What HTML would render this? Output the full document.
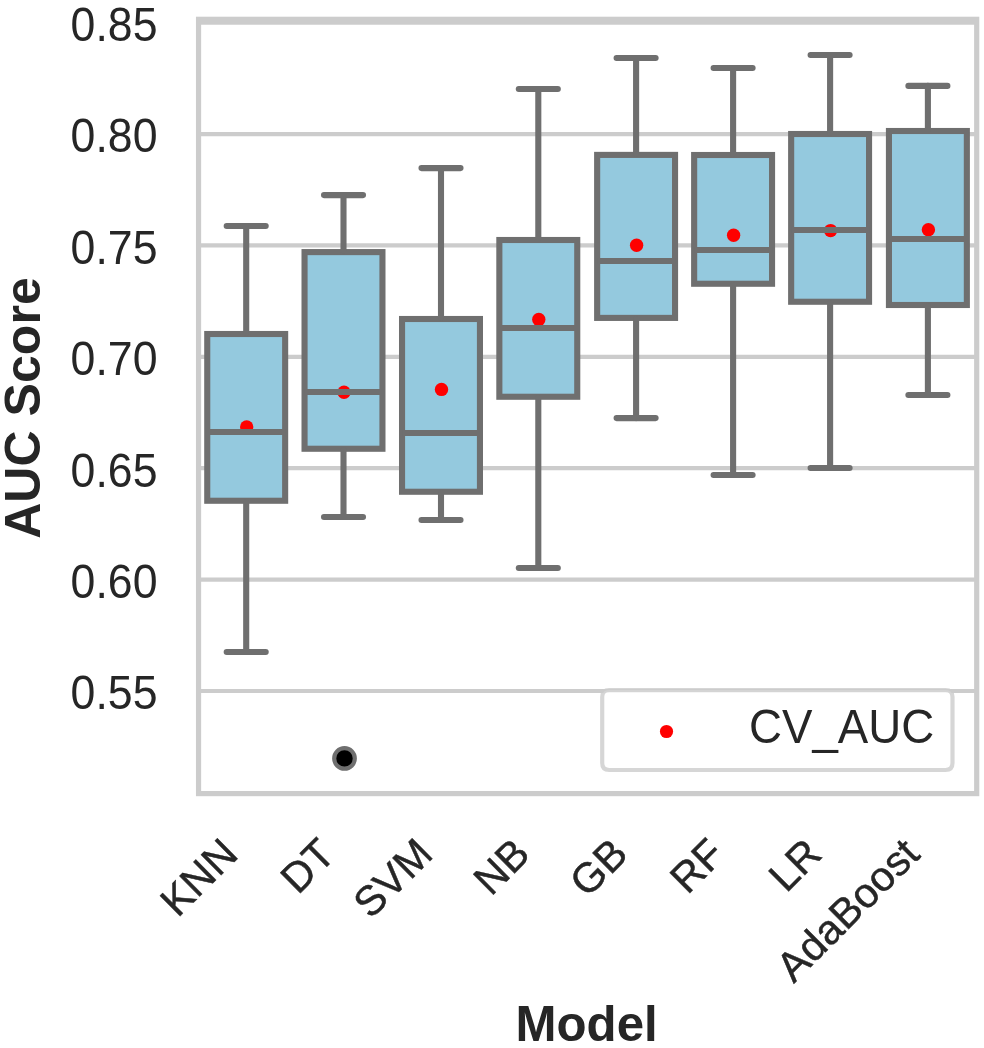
<!DOCTYPE html>
<html><head><meta charset="utf-8"><title>AUC Score by Model</title>
<style>html,body{margin:0;padding:0;background:#fff}svg{display:block}</style></head>
<body>
<svg width="984" height="1048" viewBox="0 0 984 1048" style="display:block">
<rect width="984" height="1048" fill="#fff"/>
<defs><clipPath id="ax"><rect x="198.55" y="19.3" width="778.1500000000001" height="774.3000000000001"/></clipPath></defs>
<g clip-path="url(#ax)">
<line x1="198.55" x2="976.7" y1="22.65" y2="22.65" stroke="#cccccc" stroke-width="4.17"/>
<line x1="198.55" x2="976.7" y1="134.05" y2="134.05" stroke="#cccccc" stroke-width="4.17"/>
<line x1="198.55" x2="976.7" y1="245.45" y2="245.45" stroke="#cccccc" stroke-width="4.17"/>
<line x1="198.55" x2="976.7" y1="356.85" y2="356.85" stroke="#cccccc" stroke-width="4.17"/>
<line x1="198.55" x2="976.7" y1="468.2" y2="468.2" stroke="#cccccc" stroke-width="4.17"/>
<line x1="198.55" x2="976.7" y1="579.6" y2="579.6" stroke="#cccccc" stroke-width="4.17"/>
<line x1="198.55" x2="976.7" y1="691.0" y2="691.0" stroke="#cccccc" stroke-width="4.17"/>
<rect x="207.25" y="334.00" width="77.90" height="166.75" fill="#94c9de" stroke="#6f6f6f" stroke-width="6.1"/>
<rect x="304.55" y="252.10" width="77.90" height="196.65" fill="#94c9de" stroke="#6f6f6f" stroke-width="6.1"/>
<rect x="402.05" y="319.00" width="77.90" height="172.75" fill="#94c9de" stroke="#6f6f6f" stroke-width="6.1"/>
<rect x="499.35" y="240.00" width="77.90" height="156.75" fill="#94c9de" stroke="#6f6f6f" stroke-width="6.1"/>
<rect x="597.15" y="154.90" width="77.90" height="163.00" fill="#94c9de" stroke="#6f6f6f" stroke-width="6.1"/>
<rect x="694.15" y="155.00" width="77.90" height="128.75" fill="#94c9de" stroke="#6f6f6f" stroke-width="6.1"/>
<rect x="791.15" y="134.00" width="77.90" height="167.75" fill="#94c9de" stroke="#6f6f6f" stroke-width="6.1"/>
<rect x="888.95" y="131.00" width="77.90" height="174.00" fill="#94c9de" stroke="#6f6f6f" stroke-width="6.1"/>
<g stroke="#6f6f6f" stroke-width="6.1" stroke-linecap="round">
<line x1="246.20" x2="246.20" y1="332.50" y2="226.05"/>
<line x1="246.20" x2="246.20" y1="502.25" y2="652.00"/>
<line x1="226.70" x2="265.70" y1="226.05" y2="226.05"/>
<line x1="226.70" x2="265.70" y1="652.00" y2="652.00"/>
</g>
<g stroke="#6f6f6f" stroke-width="6.1" stroke-linecap="round">
<line x1="343.50" x2="343.50" y1="250.60" y2="195.10"/>
<line x1="343.50" x2="343.50" y1="450.25" y2="517.00"/>
<line x1="324.00" x2="363.00" y1="195.10" y2="195.10"/>
<line x1="324.00" x2="363.00" y1="517.00" y2="517.00"/>
</g>
<g stroke="#6f6f6f" stroke-width="6.1" stroke-linecap="round">
<line x1="441.00" x2="441.00" y1="317.50" y2="168.10"/>
<line x1="441.00" x2="441.00" y1="493.25" y2="520.00"/>
<line x1="421.50" x2="460.50" y1="168.10" y2="168.10"/>
<line x1="421.50" x2="460.50" y1="520.00" y2="520.00"/>
</g>
<g stroke="#6f6f6f" stroke-width="6.1" stroke-linecap="round">
<line x1="538.30" x2="538.30" y1="238.50" y2="89.00"/>
<line x1="538.30" x2="538.30" y1="398.25" y2="568.00"/>
<line x1="518.80" x2="557.80" y1="89.00" y2="89.00"/>
<line x1="518.80" x2="557.80" y1="568.00" y2="568.00"/>
</g>
<g stroke="#6f6f6f" stroke-width="6.1" stroke-linecap="round">
<line x1="636.10" x2="636.10" y1="153.40" y2="58.00"/>
<line x1="636.10" x2="636.10" y1="319.40" y2="418.10"/>
<line x1="616.60" x2="655.60" y1="58.00" y2="58.00"/>
<line x1="616.60" x2="655.60" y1="418.10" y2="418.10"/>
</g>
<g stroke="#6f6f6f" stroke-width="6.1" stroke-linecap="round">
<line x1="733.10" x2="733.10" y1="153.50" y2="68.00"/>
<line x1="733.10" x2="733.10" y1="285.25" y2="475.00"/>
<line x1="713.60" x2="752.60" y1="68.00" y2="68.00"/>
<line x1="713.60" x2="752.60" y1="475.00" y2="475.00"/>
</g>
<g stroke="#6f6f6f" stroke-width="6.1" stroke-linecap="round">
<line x1="830.10" x2="830.10" y1="132.50" y2="55.00"/>
<line x1="830.10" x2="830.10" y1="303.25" y2="468.00"/>
<line x1="810.60" x2="849.60" y1="55.00" y2="55.00"/>
<line x1="810.60" x2="849.60" y1="468.00" y2="468.00"/>
</g>
<g stroke="#6f6f6f" stroke-width="6.1" stroke-linecap="round">
<line x1="927.90" x2="927.90" y1="129.50" y2="85.90"/>
<line x1="927.90" x2="927.90" y1="306.50" y2="395.00"/>
<line x1="908.40" x2="947.40" y1="85.90" y2="85.90"/>
<line x1="908.40" x2="947.40" y1="395.00" y2="395.00"/>
</g>
<circle cx="344.5" cy="758.4" r="10.3" fill="#000" stroke="#6f6f6f" stroke-width="4.2"/>
<circle cx="246.70" cy="427.00" r="6.7" fill="#ff0000"/>
<circle cx="344.00" cy="392.25" r="6.7" fill="#ff0000"/>
<circle cx="441.50" cy="389.40" r="6.7" fill="#ff0000"/>
<circle cx="538.80" cy="319.40" r="6.7" fill="#ff0000"/>
<circle cx="636.60" cy="245.25" r="6.7" fill="#ff0000"/>
<circle cx="733.60" cy="235.25" r="6.7" fill="#ff0000"/>
<circle cx="830.60" cy="230.60" r="6.7" fill="#ff0000"/>
<circle cx="928.40" cy="229.75" r="6.7" fill="#ff0000"/>
<line x1="207.25" x2="285.15" y1="432.00" y2="432.00" stroke="#6f6f6f" stroke-width="6.1"/>
<line x1="304.55" x2="382.45" y1="392.00" y2="392.00" stroke="#6f6f6f" stroke-width="6.1"/>
<line x1="402.05" x2="479.95" y1="433.00" y2="433.00" stroke="#6f6f6f" stroke-width="6.1"/>
<line x1="499.35" x2="577.25" y1="328.00" y2="328.00" stroke="#6f6f6f" stroke-width="6.1"/>
<line x1="597.15" x2="675.05" y1="261.00" y2="261.00" stroke="#6f6f6f" stroke-width="6.1"/>
<line x1="694.15" x2="772.05" y1="250.00" y2="250.00" stroke="#6f6f6f" stroke-width="6.1"/>
<line x1="791.15" x2="869.05" y1="230.00" y2="230.00" stroke="#6f6f6f" stroke-width="6.1"/>
<line x1="888.95" x2="966.85" y1="239.00" y2="239.00" stroke="#6f6f6f" stroke-width="6.1"/>
</g>
<rect x="198.55" y="19.3" width="778.1500000000001" height="774.3000000000001" fill="none" stroke="#cccccc" stroke-width="5.2"/>
<path d="M609.2,690.0 H945.5 Q952.5,690.0 952.5,697.0 V763.0 Q952.5,770.0 945.5,770.0 H609.2 Q602.2,770.0 602.2,763.0 V697.0 Q602.2,690.0 609.2,690.0 Z" fill="#fff" fill-opacity="0.8" stroke="#cccccc" stroke-opacity="0.8" stroke-width="4.17"/>
<circle cx="666.5" cy="731.5" r="6.6" fill="#ff0000"/>
<text transform="translate(749.0,743.0) scale(0.997,1.04)" font-family="Liberation Sans, sans-serif" font-size="45.83" fill="#262626">CV_AUC</text>
<text transform="translate(157.5,40.95) scale(0.974,1.05)" text-anchor="end" font-family="Liberation Sans, sans-serif" font-size="45.83" fill="#262626">0.85</text>
<text transform="translate(157.5,152.35) scale(0.974,1.05)" text-anchor="end" font-family="Liberation Sans, sans-serif" font-size="45.83" fill="#262626">0.80</text>
<text transform="translate(157.5,263.75) scale(0.974,1.05)" text-anchor="end" font-family="Liberation Sans, sans-serif" font-size="45.83" fill="#262626">0.75</text>
<text transform="translate(157.5,375.15) scale(0.974,1.05)" text-anchor="end" font-family="Liberation Sans, sans-serif" font-size="45.83" fill="#262626">0.70</text>
<text transform="translate(157.5,486.50) scale(0.974,1.05)" text-anchor="end" font-family="Liberation Sans, sans-serif" font-size="45.83" fill="#262626">0.65</text>
<text transform="translate(157.5,597.90) scale(0.974,1.05)" text-anchor="end" font-family="Liberation Sans, sans-serif" font-size="45.83" fill="#262626">0.60</text>
<text transform="translate(157.5,709.30) scale(0.974,1.05)" text-anchor="end" font-family="Liberation Sans, sans-serif" font-size="45.83" fill="#262626">0.55</text>
<text transform="translate(239.90,856.2) rotate(-45)" text-anchor="end" font-family="Liberation Sans, sans-serif" font-size="41.67" fill="#262626" stroke="#262626" stroke-width="0.45">KNN</text>
<text transform="translate(337.20,856.2) rotate(-45)" text-anchor="end" font-family="Liberation Sans, sans-serif" font-size="41.67" fill="#262626" stroke="#262626" stroke-width="0.45">DT</text>
<text transform="translate(434.70,856.2) rotate(-45)" text-anchor="end" font-family="Liberation Sans, sans-serif" font-size="41.67" fill="#262626" stroke="#262626" stroke-width="0.45">SVM</text>
<text transform="translate(532.00,856.2) rotate(-45)" text-anchor="end" font-family="Liberation Sans, sans-serif" font-size="41.67" fill="#262626" stroke="#262626" stroke-width="0.45">NB</text>
<text transform="translate(629.80,856.2) rotate(-45)" text-anchor="end" font-family="Liberation Sans, sans-serif" font-size="41.67" fill="#262626" stroke="#262626" stroke-width="0.45">GB</text>
<text transform="translate(726.80,856.2) rotate(-45)" text-anchor="end" font-family="Liberation Sans, sans-serif" font-size="41.67" fill="#262626" stroke="#262626" stroke-width="0.45">RF</text>
<text transform="translate(823.80,856.2) rotate(-45)" text-anchor="end" font-family="Liberation Sans, sans-serif" font-size="41.67" fill="#262626" stroke="#262626" stroke-width="0.45">LR</text>
<text transform="translate(921.60,856.2) rotate(-45)" text-anchor="end" font-family="Liberation Sans, sans-serif" font-size="41.67" fill="#262626" stroke="#262626" stroke-width="0.45">AdaBoost</text>
<text transform="translate(586.6,1040.5) scale(0.984,1)" text-anchor="middle" font-family="Liberation Sans, sans-serif" font-size="50" font-weight="bold" fill="#262626">Model</text>
<text transform="translate(40.3,408.0) rotate(-90) scale(1.002,1.015)" text-anchor="middle" font-family="Liberation Sans, sans-serif" font-size="50" font-weight="bold" fill="#262626">AUC Score</text>
</svg>
</body></html>
